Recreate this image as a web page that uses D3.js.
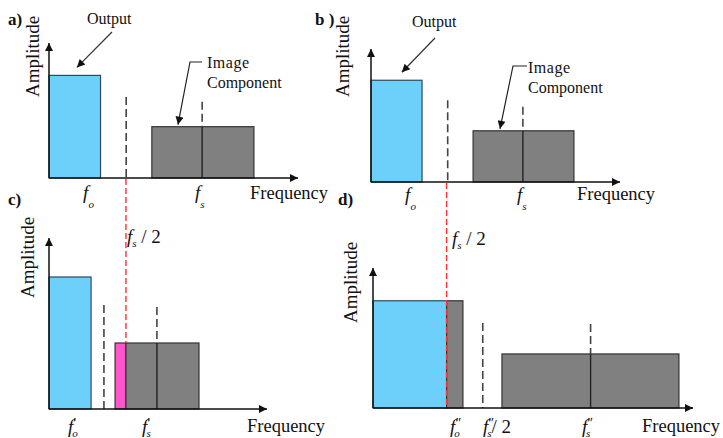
<!DOCTYPE html>
<html>
<head>
<meta charset="utf-8">
<script src="https://cdn.jsdelivr.net/npm/d3@7"></script>
<style>
  body { margin: 0; background: #fff; }
  text { fill: #111; }
</style>
</head>
<body>
<div id="chart"></div>
<script>
// schematic units: frequency 0..10 along each axis, amplitude 0..10 up each axis
var panelIds = ["a", "b", "c", "d"];
var panelLetters = ["a)", "b )", "c)", "d)"];

// bars per panel
var barsA = [{f0: 0, f1: 2.07, amp: 7.6, kind: "output"}, {f0: 4.13, f1: 8.23, amp: 3.8, kind: "image"}];
var barsB = [{f0: 0, f1: 2.05, amp: 7.65, kind: "output"}, {f0: 4.1, f1: 8.15, amp: 3.85, kind: "image"}];
var barsC = [{f0: 0, f1: 1.93, amp: 7.72, kind: "output"}, {f0: 3.03, f1: 3.53, amp: 3.86, kind: "alias"}, {f0: 3.53, f1: 6.88, amp: 3.86, kind: "image"}];
var barsD = [{f0: 0, f1: 2.3, amp: 7.66, kind: "output"}, {f0: 2.3, f1: 2.81, amp: 7.66, kind: "image"}, {f0: 4.03, f1: 9.56, amp: 3.86, kind: "image"}];

// dashed guides: half sampling rate and sampling frequency
var guidesA = [{f: 3.1, amp: 6.0, solidTo: 0}, {f: 6.15, amp: 5.65, solidTo: 3.8}];
var guidesB = [{f: 3.08, amp: 6.15, solidTo: 0}, {f: 6.1, amp: 5.65, solidTo: 3.85}];
var guidesC = [{f: 2.52, amp: 6.08, solidTo: 0}, {f: 4.95, amp: 5.96, solidTo: 3.86}];
var guidesD = [{f: 3.43, amp: 6.07, solidTo: 0}, {f: 6.8, amp: 6.0, solidTo: 3.86}];

// tick labels: f, primes, subscript, tail
var ticksA = [{f: 1.37, prime: "", sub: "o", tail: ""}, {f: 5.86, prime: "", sub: "s", tail: ""}];
var ticksB = [{f: 1.37, prime: "", sub: "o", tail: ""}, {f: 5.86, prime: "", sub: "s", tail: ""}];
var ticksC = [{f: 0.87, prime: "′", sub: "o", tail: ""}, {f: 4.27, prime: "′", sub: "s", tail: ""}];
var ticksD = [{f: 2.41, prime: "″", sub: "o", tail: ""}, {f: 3.44, prime: "″", sub: "s", tail: "/ 2"}, {f: 6.53, prime: "″", sub: "s", tail: ""}];

// fs/2 of the original sampling, carried down from a) into c) and from b) into d)
var nyquistC = {f: 3.53, stopAmp: 3.86};
var nyquistD = {f: 2.3, stopAmp: 0};

var colors = {output: "#6cd0fb", image: "#808080", alias: "#ff55cc"};

var W = 723, H = 438;
var svg = d3.select("#chart").append("svg")
  .attr("width", W).attr("height", H)
  .attr("font-family", "'Liberation Serif', 'Times New Roman', serif")
  .style("background", "#fff");

var defs = svg.append("defs");
defs.append("marker")
  .attr("id", "head")
  .attr("viewBox", "0 0 10 10")
  .attr("refX", 10).attr("refY", 5)
  .attr("markerWidth", 10).attr("markerHeight", 8)
  .attr("markerUnits", "userSpaceOnUse")
  .attr("orient", "auto")
  .append("path").attr("d", "M0,0 L10,5 L0,10 Z").attr("fill", "#111");

// pixel layout of each panel
var layout = {
  a: {x0: 49, x1: 298, y0: 178, y1: 43, amp: [38.5, 97], letter: [8, 25], freq: [250, 199], tickY: 199,
      out: {text: [87, 24], from: [112, 32], to: 1.12}, img: {text: [207, 68], from: [202, 62], bend: [190, 62], to: 5.18}},
  b: {x0: 371, x1: 620, y0: 182, y1: 49, amp: [349, 97], letter: [315, 25], freq: [577, 200], tickY: 201,
      out: {text: [412, 27], from: [435, 38], to: 1.24}, img: {text: [528, 73], from: [527, 66], bend: [513, 66], to: 5.18}},
  c: {x0: 49, x1: 267, y0: 409, y1: 238, amp: [34, 298], letter: [8, 205], freq: [247, 432], tickY: 433, half: [127, 243]},
  d: {x0: 373, x1: 693, y0: 408, y1: 268, amp: [357, 323], letter: [338, 205], freq: [642, 432], tickY: 433, half: [452, 245]}
};

var bars = {a: barsA, b: barsB, c: barsC, d: barsD};
var guides = {a: guidesA, b: guidesB, c: guidesC, d: guidesD};
var ticks = {a: ticksA, b: ticksB, c: ticksC, d: ticksD};
var scales = {};

panelIds.forEach(function(id, i) {
  var L = layout[id];
  var x = d3.scaleLinear().domain([0, 10]).range([L.x0, L.x1]);
  var y = d3.scaleLinear().domain([0, 10]).range([L.y0, L.y1]);
  scales[id] = {x: x, y: y};
  var g = svg.append("g").attr("class", "panel-" + id);

  // bars
  g.selectAll("rect.bar")
    .data(bars[id])
    .enter()
    .append("rect")
    .attr("class", "bar")
    .attr("x", function(d) { return x(d.f0); })
    .attr("y", function(d) { return y(d.amp); })
    .attr("width", function(d) { return x(d.f1) - x(d.f0); })
    .attr("height", function(d) { return y(0) - y(d.amp); })
    .attr("fill", function(d) { return colors[d.kind]; })
    .attr("stroke", function(d) { return d.kind == "output" ? "#2d4a5a" : "#333"; })
    .attr("stroke-width", 1.2);

  // dashed guides, solid part inside the bar
  g.selectAll("line.guide")
    .data(guides[id])
    .enter()
    .append("line")
    .attr("x1", function(d) { return x(d.f); })
    .attr("x2", function(d) { return x(d.f); })
    .attr("y1", function(d) { return y(d.amp); })
    .attr("y2", function(d) { return y(d.solidTo); })
    .attr("stroke", "#444")
    .attr("stroke-width", 1.6)
    .attr("stroke-dasharray", "8,4");
  g.selectAll("line.solid")
    .data(guides[id].filter(function(d) { return d.solidTo > 0; }))
    .enter()
    .append("line")
    .attr("x1", function(d) { return x(d.f); })
    .attr("x2", function(d) { return x(d.f); })
    .attr("y1", function(d) { return y(d.solidTo); })
    .attr("y2", y(0))
    .attr("stroke", "#222")
    .attr("stroke-width", 1.4);

  // axes with arrow heads
  g.append("line")
    .attr("x1", x(0)).attr("x2", x(10))
    .attr("y1", y(0)).attr("y2", y(0))
    .attr("stroke", "#111").attr("stroke-width", 1.5)
    .attr("marker-end", "url(#head)");
  g.append("line")
    .attr("x1", x(0)).attr("x2", x(0))
    .attr("y1", y(0)).attr("y2", y(10))
    .attr("stroke", "#111").attr("stroke-width", 1.5)
    .attr("marker-end", "url(#head)");

  // axis titles and panel letter
  g.append("text")
    .attr("transform", "translate(" + L.amp[0] + "," + L.amp[1] + ") rotate(-90)")
    .style("font-size", "19px")
    .text("Amplitude");
  g.append("text")
    .attr("x", L.freq[0]).attr("y", L.freq[1])
    .style("font-size", "18.5px")
    .text("Frequency");
  g.append("text")
    .attr("x", L.letter[0]).attr("y", L.letter[1])
    .style("font-size", "17px").style("font-weight", "bold")
    .text(panelLetters[i]);

  // tick labels like f'_o
  var t = g.selectAll("text.tick")
    .data(ticks[id])
    .enter()
    .append("text")
    .attr("class", "tick")
    .attr("x", function(d) { return x(d.f); })
    .attr("y", L.tickY)
    .style("font-size", "19px");
  t.append("tspan").style("font-style", "italic").text("f");
  t.append("tspan")
    .style("font-size", "14px")
    .attr("dy", -5)
    .text(function(d) { return d.prime; });
  t.append("tspan")
    .style("font-size", "11px").style("font-style", "italic")
    .attr("dx", function(d) { return d.prime ? (d.prime == "″" ? -7 : -4) : 0; })
    .attr("dy", 9)
    .text(function(d) { return d.sub; });
  t.append("tspan")
    .attr("dy", -4)
    .text(function(d) { return d.tail; });

  // fs / 2 label
  if (L.half) {
    var h = g.append("text")
      .attr("x", L.half[0]).attr("y", L.half[1])
      .style("font-size", "19px");
    h.append("tspan").style("font-style", "italic").text("f");
    h.append("tspan").style("font-size", "11px").style("font-style", "italic").attr("dy", 4).text("s");
    h.append("tspan").attr("dy", -4).text(" / 2");
  }

  // callouts
  if (L.out) {
    var outBar = bars[id][0];
    g.append("text")
      .attr("x", L.out.text[0]).attr("y", L.out.text[1])
      .style("font-size", "16px")
      .text("Output");
    g.append("line")
      .attr("x1", L.out.from[0]).attr("y1", L.out.from[1])
      .attr("x2", x(L.out.to)).attr("y2", y(outBar.amp) - 8)
      .attr("stroke", "#333").attr("stroke-width", 1.2)
      .attr("marker-end", "url(#head)");
    var imgBar = bars[id][1];
    var it = g.append("text")
      .attr("x", L.img.text[0]).attr("y", L.img.text[1])
      .style("font-size", "16px");
    it.append("tspan").style("letter-spacing", "0.5px").text("Image");
    it.append("tspan").attr("x", L.img.text[0]).attr("dy", 20).text("Component");
    g.append("path")
      .attr("d", d3.line()([L.img.from, L.img.bend, [x(L.img.to), y(imgBar.amp) - 2]]))
      .attr("fill", "none")
      .attr("stroke", "#222").attr("stroke-width", 1.2)
      .attr("marker-end", "url(#head)");
  }
});

// red fs/2 lines spanning the upper and lower panels
[["a", "c", nyquistC], ["b", "d", nyquistD]].forEach(function(p) {
  var top = scales[p[0]], bot = scales[p[1]];
  svg.append("line")
    .attr("x1", bot.x(p[2].f)).attr("x2", bot.x(p[2].f))
    .attr("y1", top.y(0) + 1)
    .attr("y2", bot.y(p[2].stopAmp))
    .attr("stroke", "#ff3030")
    .attr("stroke-width", 1.4)
    .attr("stroke-dasharray", "6,3");
});
</script>
</body>
</html>
